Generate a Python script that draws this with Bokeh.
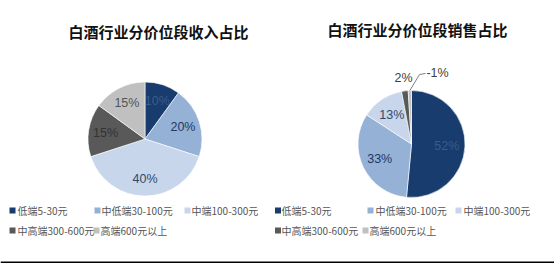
import numpy as np
from bokeh.plotting import figure
from bokeh.models import Range1d, Span
from bokeh.core.properties import value
from bokeh.embed import file_html
from bokeh.resources import INLINE

# ---------------- data ----------------
categories = ["低端5-30元", "中低端30-100元", "中端100-300元", "中高端300-600元", "高端600元以上"]
revenue_share = [10, 20, 40, 15, 15]      # 白酒行业分价位段收入占比 (%)
sales_share = [52, 33, 13, 2, -1]         # 白酒行业分价位段销售占比 (%)
titles = ["白酒行业分价位段收入占比", "白酒行业分价位段销售占比"]

# ---------------- style ----------------
colors = ["#173c6d", "#95b1d6", "#c7d6eb", "#595959", "#c0c0c0"]
label_colors = ["#3b5b8e", "#1f3864", "#34476a", "#333333", "#555555"]
CJK = "Noto Sans CJK SC"
W, H = 554, 263

p = figure(width=W, height=H, x_range=Range1d(0, W), y_range=Range1d(0, H),
           output_backend="svg", toolbar_location=None, min_border=0)
p.axis.visible = False
p.grid.visible = False
p.outline_line_color = None
p.background_fill_color = "white"


def sy(y):
    return H - y


def pie(values, cx, cy, r, label_frac, inside_min=5):
    mags = np.abs(np.array(values, dtype=float))
    fr = mags / mags.sum()
    cum = np.concatenate([[0], np.cumsum(fr)])
    starts = np.pi / 2 - 2 * np.pi * cum[:-1]
    ends = np.pi / 2 - 2 * np.pi * cum[1:]
    p.wedge(x=[cx] * len(values), y=[sy(cy)] * len(values), radius=r,
            start_angle=list(starts), end_angle=list(ends), direction="clock",
            fill_color=colors, line_color="white", line_width=0.6)
    mids = (starts + ends) / 2
    inside = [i for i, v in enumerate(values) if abs(v) >= inside_min]
    p.text(x=[cx + label_frac * r * np.cos(mids[i]) for i in inside],
           y=[sy(cy) + label_frac * r * np.sin(mids[i]) for i in inside],
           text=[f"{values[i]}%" for i in inside],
           text_color=[label_colors[i] for i in inside],
           text_font=value("Liberation Sans"), text_font_size="12.5px",
           text_align="center", text_baseline="middle")
    return mids


# left pie
pie(revenue_share, 144.5, 138.5, 57, 0.70)
# right pie
rcx, rcy, rr = 411, 143.5, 53.5
mids = pie(sales_share, rcx, rcy, rr, 0.66)

# outside labels of the small slices (right pie)
p.text(x=[403], y=[sy(77)], text=[f"{sales_share[3]}%"], text_color="#404040",
       text_font=value("Liberation Sans"), text_font_size="12.5px",
       text_align="center", text_baseline="middle")
p.text(x=[437], y=[sy(72)], text=[f"{sales_share[4]}%"], text_color="#404040",
       text_font=value("Liberation Sans"), text_font_size="12.5px",
       text_align="center", text_baseline="middle")
ex = rcx + rr * np.cos(mids[4])
ey = sy(rcy) + rr * np.sin(mids[4])
p.line(x=[ex, 419, 425], y=[ey, sy(74), sy(73)], line_color="#7f7f7f", line_width=1)

# titles
p.text(x=[158, 417], y=[sy(31), sy(29)], text=titles, text_color="#111111",
       text_font=value(CJK), text_font_size="15px", text_font_style="bold",
       text_align="center", text_baseline="middle")

# legends
leg_layouts = [
    [(12, 17, 210), (97, 101, 210), (187, 191, 210), (12, 17, 230), (96, 100, 230)],
    [(277.5, 281, 210), (370, 375, 210), (458, 463, 210), (277.5, 281, 230), (365, 369, 230)],
]
for lay in leg_layouts:
    p.scatter(x=[m for m, t, y in lay], y=[sy(y) for m, t, y in lay], marker="square",
              size=6, fill_color=colors, line_color=None)
    p.text(x=[t for m, t, y in lay], y=[sy(y) for m, t, y in lay], text=categories,
           text_color="#555555", text_font=value(CJK), text_font_size="10px",
           text_align="left", text_baseline="middle")

# bottom rule
p.add_layout(Span(location=1, dimension="width", line_color="black", line_width=2))

open("out.html", "w").write(file_html(p, INLINE))
